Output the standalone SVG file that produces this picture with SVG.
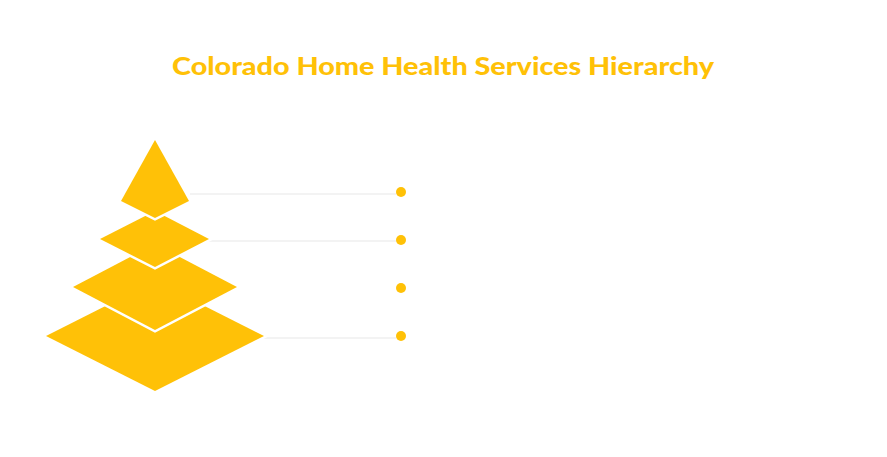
<svg xmlns="http://www.w3.org/2000/svg" width="887" height="457" viewBox="0 0 887 457">
  <style>
    .layer { fill: #FFC107; stroke: #ffffff; stroke-width: 5; stroke-linejoin: miter; paint-order: stroke; }
    .dot { fill: #FFC107; }
    .conn { stroke: #f3f3f3; stroke-width: 2; fill: none; }
    .label { font-family: "Noto Sans", "Liberation Sans", sans-serif; font-size: 14px; font-weight: bold; fill: #ffffff; }
    .title { font-family: "Lato", "Noto Sans", sans-serif; font-size: 24px; font-weight: 900; fill: #FFC107; }
  </style>
  <rect width="887" height="457" fill="#ffffff"/>
  <text class="title" x="443" y="75" text-anchor="middle" textLength="542" lengthAdjust="spacingAndGlyphs">Colorado Home Health Services Hierarchy</text>

  <g id="connectors">
    <line class="conn" x1="190" y1="194" x2="396" y2="194"/>
    <line class="conn" x1="209" y1="241" x2="396" y2="241"/>
    <line class="conn" x1="264" y1="338" x2="396" y2="338"/>
  </g>

  <g id="level4">
    <polygon class="layer" points="155,281 264,336 155,391 46,336"/>
    <circle class="dot" cx="401" cy="336" r="5"/>
    <text class="label" x="433" y="341">Basic Companionship and Homemaker Services</text>
  </g>
  <g id="level3">
    <polygon class="layer" points="155,244 237,287 155,330 73,287"/>
    <circle class="dot" cx="401" cy="288" r="5"/>
    <text class="label" x="433" y="293">Personal Care and Assistance with Daily Living Activities</text>
  </g>
  <g id="level2">
    <polygon class="layer" points="155,211 209,239 155,267 100,239"/>
    <circle class="dot" cx="401" cy="240" r="5"/>
    <text class="label" x="433" y="245">Skilled Nursing Care and Rehabilitation Therapy Services</text>
  </g>
  <g id="level1">
    <polygon class="layer" points="155,140 189,201 155,218 121,201"/>
    <circle class="dot" cx="401" cy="192" r="5"/>
    <text class="label" x="433" y="197">Specialized Care for Complex Medical Conditions</text>
  </g>
</svg>
